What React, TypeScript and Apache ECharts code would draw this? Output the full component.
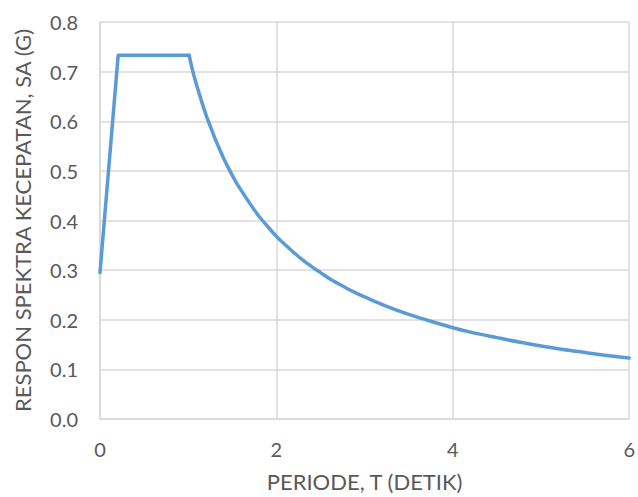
import React, { useEffect, useRef } from "react";
import * as echarts from "echarts";

// Ramp and plateau (straight segments)
const rampPeriods = [0, 0.206, 1.01];
const rampValues = [0.295, 0.733, 0.733];
// Descending branch
const decayPeriods = [1.01, 1.05, 1.1, 1.15, 1.2, 1.25, 1.3, 1.35, 1.4, 1.45, 1.5, 1.55, 1.6, 1.7, 1.8, 1.9, 2.0, 2.1, 2.2, 2.3, 2.4, 2.5, 2.6, 2.7, 2.8, 2.9, 3.0, 3.25, 3.5, 3.75, 4.0, 4.25, 4.5, 4.75, 5.0, 5.25, 5.5, 5.75, 6.0];
const decayValues = [0.733, 0.702, 0.670, 0.641, 0.614, 0.590, 0.567, 0.546, 0.526, 0.508, 0.491, 0.475, 0.461, 0.434, 0.409, 0.388, 0.368, 0.351, 0.335, 0.320, 0.307, 0.295, 0.283, 0.273, 0.263, 0.254, 0.246, 0.227, 0.211, 0.197, 0.184, 0.173, 0.164, 0.155, 0.147, 0.140, 0.134, 0.128, 0.123];
const xTicks = [0, 2, 4, 6];
const yTicks = [0, 0.1, 0.2, 0.3, 0.4, 0.5, 0.6, 0.7, 0.8];

export default function App() {
  const ref = useRef<HTMLDivElement>(null);
  useEffect(() => {
    if (!ref.current) return;
    const chart = echarts.init(ref.current, null, { renderer: "svg" });
    const font = "Lato, 'Open Sans', sans-serif";
    const lineStyle = { color: "#5b9bd5", width: 3.5, join: "round", cap: "round" };
    chart.setOption({
      animation: false,
      grid: { left: 100, right: 4, top: 22, bottom: 74, containLabel: false },
      xAxis: {
        type: "value",
        min: xTicks[0],
        max: xTicks[xTicks.length - 1],
        interval: 2,
        name: "PERIODE, T (DETIK)",
        nameLocation: "middle",
        nameGap: 51,
        nameTextStyle: { color: "#595959", fontSize: 22, fontFamily: font },
        axisLine: { show: true, lineStyle: { color: "#d9d9d9", width: 1.5 } },
        axisTick: { show: false },
        axisLabel: { color: "#595959", fontSize: 20, fontFamily: font, margin: 20 },
        splitLine: { show: true, lineStyle: { color: "#d9d9d9", width: 1.5 } },
      },
      yAxis: {
        type: "value",
        min: yTicks[0],
        max: yTicks[yTicks.length - 1],
        interval: 0.1,
        name: "RESPON SPEKTRA KECEPATAN, SA (G)",
        nameLocation: "middle",
        nameGap: 67,
        nameTextStyle: { color: "#595959", fontSize: 22, fontFamily: font },
        axisLine: { show: true, lineStyle: { color: "#d9d9d9", width: 1.5 } },
        axisTick: { show: false },
        axisLabel: {
          color: "#595959",
          fontSize: 20,
          fontFamily: font,
          margin: 22,
          formatter: (v: number) => v.toFixed(1),
        },
        splitLine: { show: true, lineStyle: { color: "#d9d9d9", width: 1.5 } },
      },
      series: [
        {
          type: "line",
          data: rampPeriods.map((t, i) => [t, rampValues[i]]),
          smooth: false,
          showSymbol: false,
          lineStyle,
        },
        {
          type: "line",
          data: decayPeriods.map((t, i) => [t, decayValues[i]]),
          smooth: 0.3,
          showSymbol: false,
          lineStyle,
        },
      ],
    });
    return () => chart.dispose();
  }, []);
  return <div ref={ref} style={{ width: 638, height: 497, position: "absolute", left: 0, top: 0, background: "#fff" }} />;
}
